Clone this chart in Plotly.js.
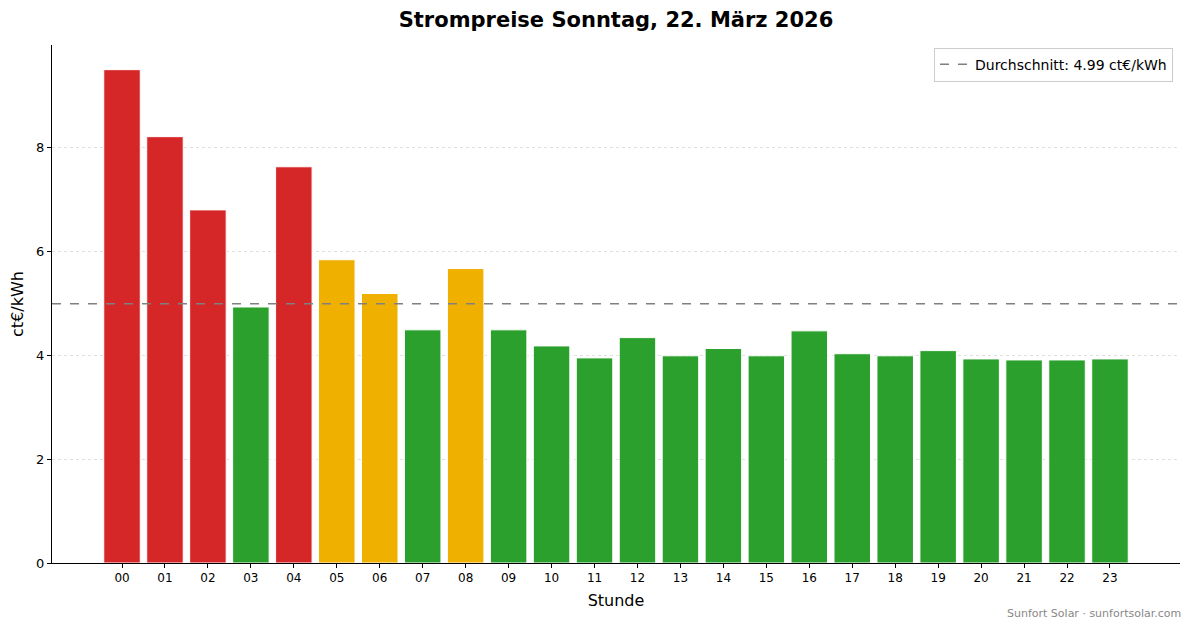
<!DOCTYPE html>
<html>
<head>
<meta charset="utf-8">
<script src="https://cdn.plot.ly/plotly-3.0.1.min.js"></script>
<style>html,body{margin:0;padding:0;background:#fff;}#chart{width:1193px;height:628px;}</style>
</head>
<body>
<div id="chart"></div>
<script>
const hours = ["00","01","02","03","04","05","06","07","08","09","10","11","12","13","14","15","16","17","18","19","20","21","22","23"];
const prices = [9.50,8.21,6.80,4.93,7.63,5.84,5.19,4.49,5.67,4.49,4.18,3.95,4.34,3.99,4.13,3.99,4.47,4.03,3.99,4.09,3.93,3.91,3.91,3.93];
const levels = ["high","high","high","low","high","mid","mid","low","mid","low","low","low","low","low","low","low","low","low","low","low","low","low","low","low"];
const average = 4.99;
const yTicks = [0,2,4,6,8];

const levelColors = {high:"#d62728", mid:"#f0b000", low:"#2ca02c"};
const xIdx = hours.map((h,i)=>i);
const font = "DejaVu Sans, sans-serif";

const traces = [
  {
    type: "bar",
    x: xIdx,
    y: prices,
    width: 0.85,
    marker: {color: levels.map(l=>levelColors[l]), line: {color: "#ffffff", width: 1}},
    showlegend: false,
    hoverinfo: "x+y"
  },
  {
    type: "scatter",
    mode: "lines",
    x: [null],
    y: [null],
    name: "Durchschnitt: " + average.toFixed(2) + " ct€/kWh",
    line: {color: "#808080", width: 1.5, dash: "dash"},
    showlegend: true
  }
];

const layout = {
  width: 1193,
  height: 628,
  margin: {l: 52, r: 13, t: 45, b: 65},
  paper_bgcolor: "#ffffff",
  plot_bgcolor: "#ffffff",
  font: {family: font, color: "#000"},
  title: {
    text: "<b>Strompreise Sonntag, 22. März 2026</b>",
    font: {family: font, size: 21, color: "#000"},
    x: 0.5, xref: "paper", xanchor: "center",
    y: 0.968, yref: "container", yanchor: "middle"
  },
  xaxis: {
    range: [-1.63, 24.63],
    tickmode: "array",
    tickvals: xIdx,
    ticktext: hours,
    tickfont: {size: 12, family: font, color: "#000"},
    ticks: "outside", ticklen: 4, tickwidth: 1, tickcolor: "#000",
    showline: true, linecolor: "#000", linewidth: 1,
    showgrid: false, zeroline: false,
    title: {text: "Stunde", font: {size: 16, family: font, color: "#000"}, standoff: 10}
  },
  yaxis: {
    range: [0, 9.975],
    tickmode: "array",
    tickvals: yTicks,
    tickfont: {size: 13, family: font, color: "#000"},
    ticks: "outside", ticklen: 4, tickwidth: 1, tickcolor: "#000",
    showline: true, linecolor: "#000", linewidth: 1,
    showgrid: true, gridcolor: "#e0e0e0", griddash: "dot", gridwidth: 1,
    zeroline: false,
    title: {text: "ct€/kWh", font: {size: 16, family: font, color: "#000"}, standoff: 8}
  },
  shapes: [
    {type: "line", xref: "paper", x0: 0, x1: 1, yref: "y", y0: average, y1: average,
     line: {color: "#808080", width: 1.5, dash: "dash"}, layer: "above"}
  ],
  legend: {
    x: 0.9938, y: 0.995, xanchor: "right", yanchor: "top",
    bgcolor: "rgba(255,255,255,0.9)", bordercolor: "#cccccc", borderwidth: 1,
    font: {size: 14, family: font, color: "#000"},
    itemwidth: 30, tracegroupgap: 0
  },
  annotations: [
    {text: "Sunfort Solar · sunfortsolar.com", xref: "paper", yref: "paper",
     x: 1.003, y: -0.082, xanchor: "right", yanchor: "top", showarrow: false,
     font: {size: 11, family: font, color: "#888888"}}
  ],
  bargap: 0
};

Plotly.newPlot("chart", traces, layout, {displayModeBar: false, staticPlot: true});
</script>
</body>
</html>
